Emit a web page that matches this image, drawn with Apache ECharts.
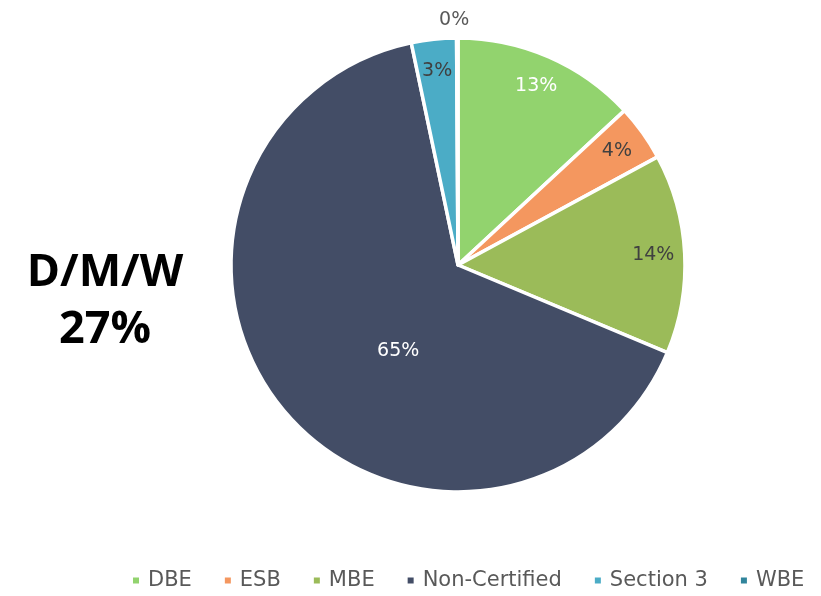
<!DOCTYPE html>
<html lang="en">
<head>
    <meta charset="UTF-8">
    <title>D/M/W Pie</title>
    <script src="https://cdn.jsdelivr.net/npm/echarts@6.0.0/dist/echarts.min.js"></script>
    <style>
        html, body { margin: 0; padding: 0; background: #fff; }
        #main { width: 821px; height: 596px; }
    </style>
</head>
<body>
    <div id="main"></div>

    <script>
        // categories and values (percent of total)
        var names = ['DBE', 'ESB', 'MBE', 'Non-Certified', 'Section 3', 'WBE'];
        var values = [13.1, 4.0, 14.2, 65.4, 3.2, 0.1];
        var colors = ['#92d36e', '#f4975f', '#9bbb59', '#434d66', '#4bacc6', '#31859c'];
        var labelColors = ['#ffffff', '#404040', '#404040', '#ffffff', '#404040', '#595959'];

        var font = '"DejaVu Sans", sans-serif';
        var myChart = echarts.init(document.getElementById('main'));

        function pct(p) {
            return Math.round(p.percent) + '%';
        }

        // main pie: only the big slice carries its own label
        var pieData = names.map(function (n, i) {
            var big = n === 'Non-Certified';
            return {
                name: n,
                value: values[i],
                itemStyle: { color: colors[i] },
                label: { show: big, color: labelColors[i], offset: big ? [30, 12] : [0, 0] }
            };
        });

        // transparent ring used to place the other labels near the rim
        var ringData = names.map(function (n, i) {
            var outside = n === 'WBE';
            return {
                name: n,
                value: values[i],
                label: {
                    show: n !== 'Non-Certified',
                    color: labelColors[i],
                    position: outside ? 'outside' : 'inside',
                    offset: outside ? [17, -2] : [0, 0]
                }
            };
        });

        myChart.setOption({
            animation: false,
            title: {
                text: 'D/M/W\n27%',
                left: 100,
                top: 240,
                textAlign: 'center',
                textStyle: {
                    fontFamily: '"Open Sans", sans-serif',
                    fontWeight: 'bold',
                    fontSize: 45,
                    lineHeight: 57,
                    color: '#000'
                }
            },
            legend: {
                data: names,
                left: 126,
                bottom: 0,
                icon: 'rect',
                itemWidth: 8,
                itemHeight: 8,
                itemGap: 31,
                textStyle: { fontFamily: font, fontSize: 21, color: '#595959', padding: [0, 0, 0, 3] }
            },
            series: [{
                type: 'pie',
                center: [458, 265],
                radius: 227,
                startAngle: 90,
                clockwise: true,
                avoidLabelOverlap: false,
                itemStyle: { borderColor: '#fff', borderWidth: 3.5 },
                label: { position: 'inside', formatter: pct, fontFamily: font, fontSize: 19 },
                labelLine: { show: false },
                emphasis: { disabled: true },
                data: pieData
            }, {
                type: 'pie',
                center: [458, 265],
                radius: [158, 227],
                startAngle: 90,
                clockwise: true,
                silent: true,
                legendHoverLink: false,
                avoidLabelOverlap: false,
                itemStyle: { color: 'rgba(0,0,0,0)' },
                label: { formatter: pct, fontFamily: font, fontSize: 19 },
                labelLine: { show: false, length: 16, length2: 0 },
                emphasis: { disabled: true },
                data: ringData
            }]
        });
    </script>
</body>
</html>
